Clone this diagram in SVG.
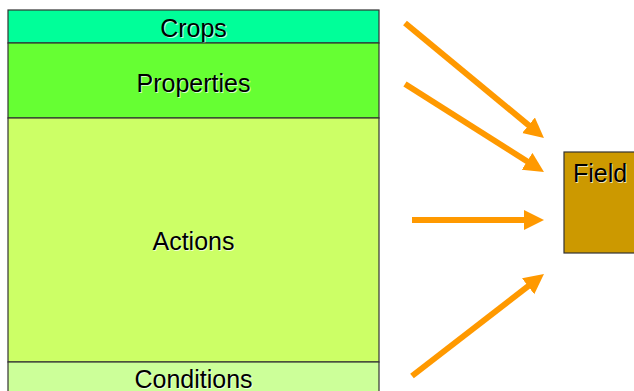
<svg xmlns="http://www.w3.org/2000/svg" width="634" height="391" viewBox="0 0 634 391">
  <style>
    .band { stroke: #333333; stroke-width: 1.2; }
    .lbl { font-family: "Liberation Sans", Arial, sans-serif; font-size: 25px; fill: #000000; }
    .shadow { font-family: "Liberation Sans", Arial, sans-serif; font-size: 25px; fill: #ffffff; opacity: 0.7; }
    .mid { text-anchor: middle; }
    .flow { stroke: #FF9900; stroke-width: 6; fill: none; }
  </style>
  <defs>
    <marker id="head" markerUnits="userSpaceOnUse" markerWidth="22" markerHeight="22" refX="5" refY="10" orient="auto">
      <path d="M0,0 L20,10 L0,20 z" fill="#FF9900"/>
    </marker>
  </defs>
  <rect width="634" height="391" fill="#ffffff"/>

  <g id="crops">
    <rect class="band" x="8" y="10" width="371" height="33" fill="#00FF99"/>
    <text class="shadow mid" x="194.5" y="37.8">Crops</text>
    <text class="lbl mid" x="193.5" y="37">Crops</text>
  </g>
  <g id="properties">
    <rect class="band" x="8" y="43" width="371" height="75" fill="#66FF33"/>
    <text class="shadow mid" x="194.5" y="92.8">Properties</text>
    <text class="lbl mid" x="193.5" y="92">Properties</text>
  </g>
  <g id="actions">
    <rect class="band" x="8" y="118" width="371" height="244" fill="#CCFF66"/>
    <text class="shadow mid" x="194.5" y="250.8">Actions</text>
    <text class="lbl mid" x="193.5" y="250">Actions</text>
  </g>
  <g id="conditions">
    <rect class="band" x="8" y="362" width="371" height="40" fill="#CCFF99"/>
    <text class="shadow mid" x="194.5" y="388.8">Conditions</text>
    <text class="lbl mid" x="193.5" y="388">Conditions</text>
  </g>
  <g id="field">
    <rect class="band" x="564" y="152" width="80" height="101" fill="#CC9900"/>
    <text class="shadow" x="574" y="182.8">Field</text>
    <text class="lbl" x="573" y="182">Field</text>
  </g>

  <g id="connectors">
    <line class="flow" x1="405" y1="23" x2="532.4" y2="128.4" marker-end="url(#head)"/>
    <line class="flow" x1="405" y1="84" x2="531.3" y2="164" marker-end="url(#head)"/>
    <line class="flow" x1="412" y1="220" x2="529" y2="220" marker-end="url(#head)"/>
    <line class="flow" x1="412" y1="376" x2="532.1" y2="283.2" marker-end="url(#head)"/>
  </g>
</svg>
